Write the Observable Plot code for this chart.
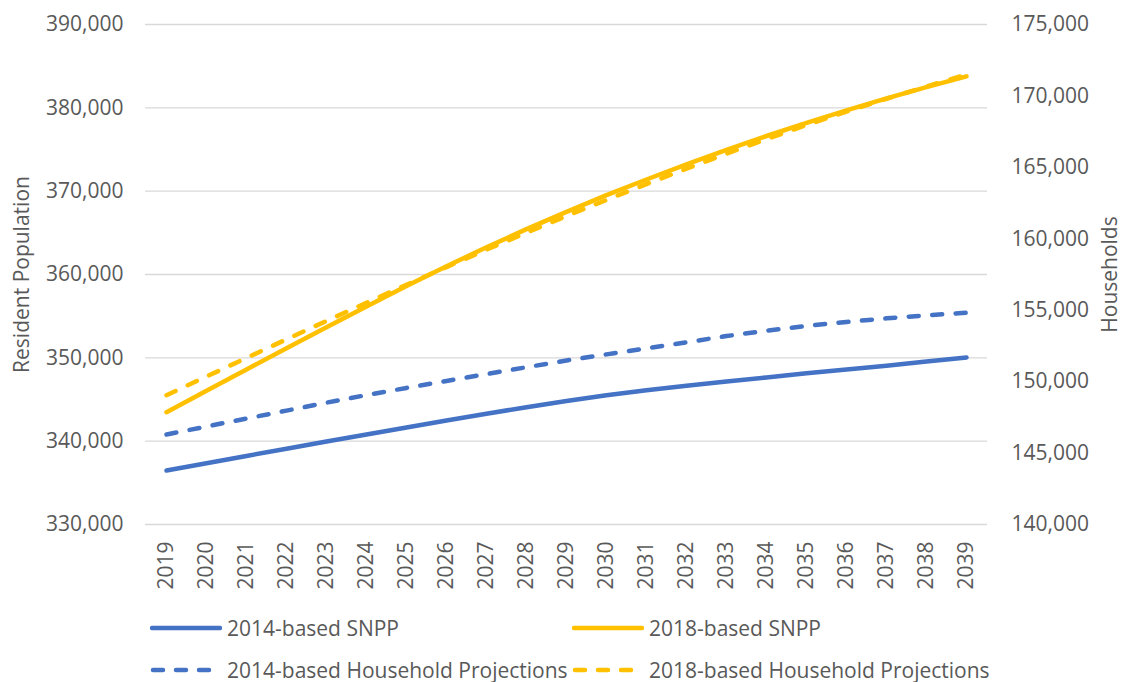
<!DOCTYPE html>
<html>
<head>
<meta charset="utf-8">
<script src="https://cdn.jsdelivr.net/npm/d3@7"></script>
<script src="https://cdn.jsdelivr.net/npm/@observablehq/plot@0.6"></script>
<style>
  html, body { margin: 0; padding: 0; background: #fff; }
  #chart { width: 1124px; }
  #legend { position: relative; width: 1124px; height: 82px; font-family: 'Open Sans', sans-serif; font-size: 21px; color: #595959; }
  .item { position: absolute; display: flex; align-items: center; height: 30px; white-space: nowrap; }
  .item svg { display: block; margin-right: 5px; }
</style>
</head>
<body>
<div id="chart"></div>
<div id="legend"></div>
<script>
// ---- data ----
const years = ["2019","2020","2021","2022","2023","2024","2025","2026","2027","2028","2029",
               "2030","2031","2032","2033","2034","2035","2036","2037","2038","2039"];
// Resident population (left axis)
const snpp2014 = [336480,337360,338230,339100,339960,340810,341650,342480,343290,344080,344830,
                  345500,346100,346650,347150,347650,348150,348600,349050,349550,350050];
const snpp2018 = [343480,346050,348610,351150,353670,356160,358620,361000,363260,365440,367520,
                  369520,371400,373220,374960,376620,378200,379700,381130,382490,383780];
// Households (right axis)
const hh2014 = [146300,146860,147420,147970,148530,149060,149560,150050,150530,151010,151480,
                151910,152330,152750,153190,153570,153900,154180,154430,154640,154820];
const hh2018 = [149050,150360,151660,152960,154250,155520,156780,158020,159240,160430,161590,
                162720,163830,164910,165960,166980,167960,168910,169800,170660,171500];
const leftTicks = [330000,340000,350000,360000,370000,380000,390000];
const rightTicks = [140000,145000,150000,155000,160000,165000,170000,175000];
const seriesNames = ["2014-based SNPP","2018-based SNPP","2014-based Household Projections","2018-based Household Projections"];
const blue = "#4472C4", yellow = "#FFC000";

// ---- dual axis mapping ----
const leftDom = [330000, 390000], rightDom = [140000, 175000];
const toLeft = h => leftDom[0] + (h - rightDom[0]) * (leftDom[1]-leftDom[0]) / (rightDom[1]-rightDom[0]);
const fromLeft = v => rightDom[0] + (v - leftDom[0]) * (rightDom[1]-rightDom[0]) / (leftDom[1]-leftDom[0]);

const rows = (vals, conv) => years.map((y,i) => ({year: y, value: conv ? toLeft(vals[i]) : vals[i]}));
const fmt = d3.format(",");
const dash = "10 13.5";
const FS = 21;

const chart = Plot.plot({
  width: 1124, height: 600,
  marginLeft: 145, marginRight: 137, marginTop: 24, marginBottom: 76,
  style: {fontFamily: "'Open Sans', sans-serif", fontSize: FS + "px", color: "#595959", background: "#fff", overflow: "visible"},
  x: {type: "point", domain: years, padding: 0.5},
  y: {domain: leftDom},
  marks: [
    Plot.gridY(leftTicks, {stroke: "#d9d9d9", strokeOpacity: 1, strokeWidth: 1.3}),
    Plot.axisY({ticks: leftTicks, tickSize: 0, tickPadding: 22, tickFormat: fmt, label: null, fill: "#595959", fontSize: FS}),
    Plot.axisY({anchor: "right", ticks: rightTicks.map(toLeft), tickSize: 0, tickPadding: 24,
                tickFormat: v => fmt(Math.round(fromLeft(v))), label: null, fill: "#595959", fontSize: FS}),
    Plot.axisX({tickRotate: -90, tickSize: 0, tickPadding: 17, label: null, fill: "#595959", fontSize: FS}),
    Plot.text(["Resident Population"], {frameAnchor: "left", dx: -123, rotate: -90, textAnchor: "middle", fill: "#595959", fontSize: FS}),
    Plot.text(["Households"], {frameAnchor: "right", dx: 123, rotate: -90, textAnchor: "middle", fill: "#595959", fontSize: FS}),
    Plot.lineY(rows(snpp2014), {x: "year", y: "value", stroke: blue, strokeWidth: 4.5, strokeLinecap: "round", strokeLinejoin: "round"}),
    Plot.lineY(rows(snpp2018), {x: "year", y: "value", stroke: yellow, strokeWidth: 4.5, strokeLinecap: "round", strokeLinejoin: "round"}),
    Plot.lineY(rows(hh2014, true), {x: "year", y: "value", stroke: blue, strokeWidth: 4.5, strokeLinecap: "round", strokeDasharray: dash}),
    Plot.lineY(rows(hh2018, true), {x: "year", y: "value", stroke: yellow, strokeWidth: 4.5, strokeLinecap: "round", strokeDasharray: dash})
  ]
});
document.getElementById("chart").appendChild(chart);

// ---- legend ----
const legendItems = [
  {name: seriesNames[0], color: blue, dashed: false, left: 150, top: 13},
  {name: seriesNames[1], color: yellow, dashed: false, left: 572, top: 13},
  {name: seriesNames[2], color: blue, dashed: true, left: 150, top: 55},
  {name: seriesNames[3], color: yellow, dashed: true, left: 572, top: 55}
];
const legend = document.getElementById("legend");
for (const it of legendItems) {
  const d = document.createElement("div");
  d.className = "item";
  d.style.left = it.left + "px";
  d.style.top = it.top + "px";
  const da = it.dashed ? ` stroke-dasharray="10 13"` : "";
  d.innerHTML = `<svg width="72" height="10"><line x1="${it.dashed?3:2}" y1="5" x2="${it.dashed?69:70}" y2="5" stroke="${it.color}" stroke-width="4.5" stroke-linecap="round"${da}/></svg><span>${it.name}</span>`;
  legend.appendChild(d);
}
</script>
</body>
</html>
